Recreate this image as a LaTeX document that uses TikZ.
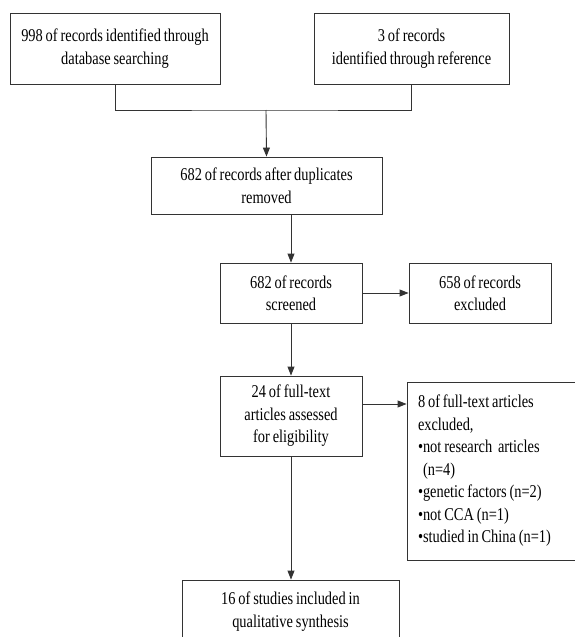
\documentclass[tikz,border=0pt]{standalone}
\usepackage{fontspec}
\setmainfont{Liberation Serif}[FakeStretch=0.8, WordSpace=0.8]
\usepackage{tikz}
\usetikzlibrary{positioning}
\usetikzlibrary{arrows.meta}

% keep the font's own (narrowed) word spaces in boxes with a text width
\newcommand{\fontspaces}{\spaceskip=\fontdimen2\font\relax\xspaceskip=\fontdimen2\font\relax}

\begin{document}
\begin{tikzpicture}[x=1pt,y=1pt,
    every node/.style={font=\fontsize{18}{22.5}\selectfont},
    flowbox/.style={draw=black!80, line width=0.9pt, inner sep=4pt, align=center},
    flowarrow/.style={draw=black!80, line width=0.9pt, -{Triangle[length=9pt,width=7pt]}},
    flowline/.style={draw=black!80, line width=0.9pt}
]

    % page size of the reference, in pixels
    \useasboundingbox (0,0) rectangle (574,-637);

    % Identification: the two sources of records
    \node[flowbox, minimum width=210pt, minimum height=71pt, text width=202pt]
        (Rec1) at (115,-48.5) {\fontspaces 998 of records identified through\\ database searching\par\vspace{12pt}};
    \node[flowbox, minimum width=195pt, minimum height=71pt, text width=187pt]
        (Rec2) at (411.5,-48.5) {\fontspaces 3 of records\\ identified through reference\par\vspace{12pt}};

    % where the two sources meet
    \coordinate (Join) at (266,-110);

    % Screening
    \node[flowbox, minimum width=231pt, minimum height=57pt]
        (Dup) at (266.5,-185.5) {682 of records after duplicates\\ removed};
    \node[flowbox, minimum width=142pt, minimum height=60pt]
        (Scr) at (291,-293) {682 of records\\ screened};
    \node[flowbox, minimum width=142pt, minimum height=60pt]
        (Exc1) at (480,-293) {658 of records\\ excluded};

    % Eligibility
    \node[flowbox, minimum width=142pt, minimum height=80pt]
        (Full) at (291,-416) {24 of full-text\\ articles assessed\\ for eligibility};
    \node[flowbox, minimum width=175pt, minimum height=178pt, inner xsep=11pt,
          text width=153pt, align=left]
        (Exc2) at (494.5,-471) {\fontspaces 8 of full-text articles\\ excluded,\\
        \textbullet not research~ articles\\ \phantom{\textbullet}(n=4)\\
        \textbullet genetic factors (n=2)\\ \textbullet not CCA (n=1)\\
        \textbullet studied in China (n=1)};

    % Included
    \node[flowbox, minimum width=217pt, minimum height=63pt]
        (Inc) at (290.5,-611.5) {16 of studies included in\\ qualitative synthesis};

    %%%%%%%%%%%%%%%%%%%%%%%%%%%%%%%%%%%%%%%%%%%%%%%%%%%%%%%%%%%%%%
    % Connectors
    \draw[flowline] (Rec1.south) |- (Join) -| (Rec2.south);
    \draw[flowarrow] (Join) -- (Dup.north);
    \draw[flowarrow] (Dup.south -| Scr.north) -- (Scr.north);
    \draw[flowarrow] (Scr.east) -- (Scr.east -| Exc1.west);
    \draw[flowarrow] (Scr.south) -- (Full.north);
    \coordinate (FullOut) at ([yshift=12pt]Full.east);
    \draw[flowarrow] (FullOut) -- (FullOut -| Exc2.west);
    \draw[flowarrow] (Full.south) -- (Full.south |- Inc.north);

\end{tikzpicture}
\end{document}
